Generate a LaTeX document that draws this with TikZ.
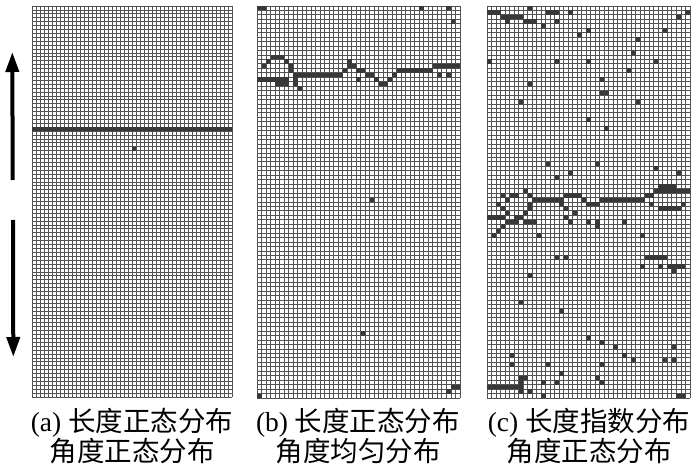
\documentclass[tikz,border=0pt]{standalone}
\usepackage{fontspec}
\setmainfont{Liberation Serif}
\newfontfamily\cjk{Noto Sans CJK SC}
\usetikzlibrary{arrows.meta}
\tikzset{
  gridline/.style={draw=black!68, line width=0.95pt},
  finegrid/.style={gridline, line width=0.75pt},
  cellfill/.style={fill=black!78},
  caption/.style={inner sep=0pt, font=\fontsize{27.5}{29}\selectfont},
  bigarrow/.style={line width=4pt, -{Triangle[width=13pt,length=20pt]}}
}
\newcommand\mygridpanel[3]{%
  \foreach \i in {0,...,#1} {\draw[#3] (\i,0) -- (\i,#2);}
  \foreach \j in {0,...,#2} {\draw[#3] (0,\j) -- (#1,\j);}
}
\newcommand\mycells[1]{%
  \foreach \c/\r in {#1} {\fill[cellfill] (\c,\r) rectangle ++(1,1);}
}
\begin{document}
\begin{tikzpicture}
\useasboundingbox (0,0) rectangle (700pt,-470pt);
\fill[white] (0,0) rectangle (700pt,-470pt);

% panel (a)
\begin{scope}[shift={(32pt,-6pt)}, x=4pt, y=-3.91pt]
  \mygridpanel{50}{100}{finegrid}
  \fill[cellfill] (0,31) rectangle (50,32);
  \mycells{25/36}
\end{scope}

% panel (b)
\begin{scope}[shift={(257pt,-6pt)}, x=4.511pt, y=-4.4545pt]
  \mygridpanel{45}{88}{gridline}
  \mycells{0/16,1/16,2/16,3/16,4/16,5/16,6/16,4/17,5/17,6/17,
    1/13,2/12,3/11,4/11,5/11,6/12,7/13,7/14,
    8/15,8/16,8/17,9/18,
    9/15,10/15,11/15,12/15,13/15,14/15,15/15,16/15,17/15,18/15,
    19/14,20/13,20/12,21/13,22/14,23/14,22/16,24/15,25/15,26/16,27/17,28/17,29/16,30/15,31/14,
    32/14,33/14,34/14,35/14,36/14,37/14,38/14,
    39/13,40/13,41/13,42/13,43/13,44/13,40/15,42/15,
    0/0,1/0,36/0,42/0,43/3,25/43,23/73,0/87,42/86,43/85,44/85}
\end{scope}

% panel (c)
\begin{scope}[shift={(487pt,-6pt)}, x=4.511pt, y=-4.4545pt]
  \mygridpanel{45}{88}{gridline}
  \mycells{0/1,1/1,2/1,3/2,4/2,5/2,6/2,7/2,4/3,8/3,9/3,10/3,9/0,12/4,13/1,14/1,15/1,15/3,
    18/1,22/5,20/6,44/1,42/2,39/5,33/7,32/10,37/12,31/14,22/12,15/12,0/12,9/17,25/16,
    25/19,26/19,7/21,33/21,22/25,26/27}
  \mycells{0/47,1/47,2/47,3/47,4/48,5/48,6/48,7/47,8/46,9/45,9/44,10/43,11/43,12/43,13/43,
    14/43,15/43,16/43,17/42,18/42,19/42,20/42,21/43,22/44,23/44,24/44,25/43,26/43,27/43,
    28/43,29/43,30/43,31/43,32/43,33/43,34/43,35/42,36/42,37/41,38/41,39/41,40/41,41/41,
    42/41,43/41,44/41,38/40,39/40,40/40,41/40,
    38/45,39/45,40/45,41/45,42/45,36/44,43/44,
    3/42,5/42,6/42,8/41,9/42,4/43,2/44,3/45,4/46,6/47,8/48,9/48,10/48,3/49,2/50,1/51,
    16/44,17/45,17/47,18/48,19/46,22/48,24/48,24/49,30/48,34/51,11/51}
  \mycells{13/35,15/38,18/37,24/35,37/36,42/37,15/56,17/56,35/56,36/56,37/56,38/56,39/56,
    34/58,38/58,40/58,41/58,42/58,43/58,41/59,9/60,7/66,16/68,
    22/74,25/75,28/76,41/76,5/78,5/80,13/80,25/80,30/78,32/79,39/79,41/79,16/82,24/83,25/84,
    7/83,8/83,7/84,7/85,7/86,0/85,1/85,2/85,3/85,4/85,5/85,6/85,9/86,12/84,12/87,15/84,
    42/87,43/87}
\end{scope}

% arrows
\coordinate (upS) at (12.7pt,-180pt);
\coordinate (upE) at (12.3pt,-52pt);
\coordinate (dnS) at (13pt,-220pt);
\coordinate (dnE) at (13.3pt,-357pt);
\draw[bigarrow] (upS) -- (upE);
\draw[bigarrow] (dnS) -- (dnE);

% captions
\node[caption] (capa1) at (132pt,-423pt) {(a) {\cjk 长度正态分布}};
\node[caption] (capa2) at (132pt,-451pt) {\cjk 角度正态分布};
\node[caption] (capb1) at (358pt,-423pt) {(b) {\cjk 长度正态分布}};
\node[caption] (capb2) at (358pt,-451pt) {\cjk 角度均匀分布};
\node[caption] (capc1) at (589pt,-423pt) {(c) {\cjk 长度指数分布}};
\node[caption] (capc2) at (589pt,-451pt) {\cjk 角度正态分布};
\end{tikzpicture}
\end{document}
